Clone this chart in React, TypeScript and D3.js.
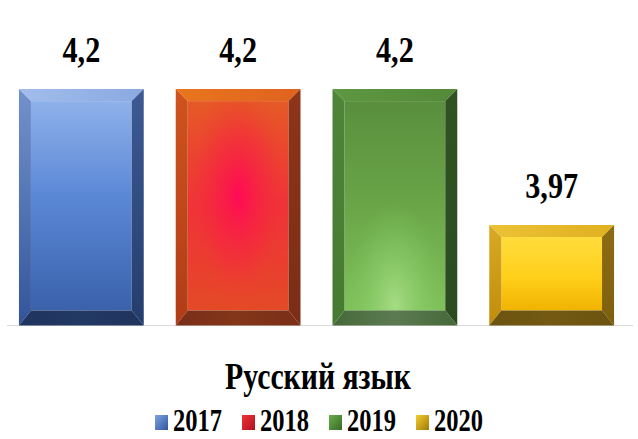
import React from "react";
import * as d3 from "d3";

const categories = ["2017", "2018", "2019", "2020"];
const values = [4.2, 4.2, 4.2, 3.97];
const labels = ["4,2", "4,2", "4,2", "3,97"];
const title = "Русский язык";

type Pal = {
  faceStops: [number, string][];
  radial?: { cx: number; cy: number; r: number; stops: [number, string, number][] };
  top: [string, string];
  left: [string, string];
  right: [string, string];
  bottom: [string, string];
  legend: [string, string];
};

const palettes: Pal[] = [
  {
    faceStops: [[0, "#8fb1ea"], [0.45, "#5b88d6"], [1, "#3a62ab"]],
    top: ["#a2bdec", "#8aa9e0"],
    left: ["#7392cb", "#34549a"],
    right: ["#3d5a94", "#243d6c"],
    bottom: ["#1f345f", "#223964"],
    legend: ["#7fa3e3", "#2f55a0"],
  },
  {
    faceStops: [[0, "#e65a26"], [0.5, "#f0303a"], [1, "#e44a26"]],
    radial: { cx: 0.5, cy: 0.45, r: 0.55, stops: [[0, "#ff0a55", 1], [0.6, "#f52a3c", 0.5], [1, "#e84a28", 0]] },
    top: ["#e8761e", "#e0621e"],
    left: ["#cf531d", "#b03c17"],
    right: ["#8e3419", "#7c2d16"],
    bottom: ["#7a2e17", "#833618"],
    legend: ["#f03535", "#b01020"],
  },
  {
    faceStops: [[0, "#598f3d"], [0.5, "#6aa548"], [1, "#7fc25a"]],
    radial: { cx: 0.5, cy: 0.98, r: 0.5, stops: [[0, "#a6dc85", 1], [0.6, "#8acb68", 0.5], [1, "#7fc25a", 0]] },
    top: ["#5e9741", "#548a39"],
    left: ["#4e8538", "#467a31"],
    right: ["#2f5323", "#2c4c20"],
    bottom: ["#45693a", "#5c7a52"],
    legend: ["#6aae4a", "#3a6a28"],
  },
  {
    faceStops: [[0, "#ffdc3c"], [0.55, "#ffcf1a"], [1, "#f0b300"]],
    top: ["#ecc235", "#e0b020"],
    left: ["#d9aa24", "#c08c0c"],
    right: ["#8c6c12", "#7e5f0e"],
    bottom: ["#6c5310", "#735911"],
    legend: ["#f5cc30", "#a07a08"],
  },
];

const W = 638;
const H = 439;
const baseY = 325.5;
const BEV = 12;
const BEVB = 15;
const FONT = "'Liberation Serif', 'Times New Roman', serif";

export default function App() {
  const x = d3
    .scaleBand<string>()
    .domain(categories)
    .range([5, 628])
    .paddingInner(0.204)
    .paddingOuter(0.089);
  const y = d3.scaleLinear().domain([3.8, 4.3]).range([baseY, 30]);

  const pts = (p: [number, number][]) => p.map((q) => q.join(",")).join(" ");

  // legend layout
  const sq = 13;
  const gap = 5;
  const tw = 49;
  const itemGap = 20;
  const itemW = sq + gap + tw + itemGap;
  const legendW = categories.length * itemW - itemGap;
  const legendX0 = 319 - legendW / 2;
  const legendBase = 431;

  return (
    <svg width={W} height={H} style={{ position: "absolute", left: 0, top: 0 }}>
      <defs>
        {palettes.map((p, i) => (
          <React.Fragment key={i}>
            <linearGradient id={`face${i}`} x1="0" y1="0" x2="0" y2="1">
              {p.faceStops.map(([o, c], k) => (
                <stop key={k} offset={o} stopColor={c} />
              ))}
            </linearGradient>
            {p.radial && (
              <radialGradient id={`rad${i}`} cx={p.radial.cx} cy={p.radial.cy} r={p.radial.r}>
                {p.radial.stops.map(([o, c, a], k) => (
                  <stop key={k} offset={o} stopColor={c} stopOpacity={a} />
                ))}
              </radialGradient>
            )}
            <linearGradient id={`top${i}`} x1="0" y1="0" x2="1" y2="0">
              <stop offset="0" stopColor={p.top[0]} />
              <stop offset="1" stopColor={p.top[1]} />
            </linearGradient>
            <linearGradient id={`left${i}`} x1="0" y1="0" x2="0" y2="1">
              <stop offset="0" stopColor={p.left[0]} />
              <stop offset="1" stopColor={p.left[1]} />
            </linearGradient>
            <linearGradient id={`right${i}`} x1="0" y1="0" x2="0" y2="1">
              <stop offset="0" stopColor={p.right[0]} />
              <stop offset="1" stopColor={p.right[1]} />
            </linearGradient>
            <linearGradient id={`bottom${i}`} x1="0" y1="0" x2="1" y2="0">
              <stop offset="0" stopColor={p.bottom[0]} />
              <stop offset="0.5" stopColor={p.bottom[1]} />
              <stop offset="1" stopColor={p.bottom[0]} />
            </linearGradient>
            <linearGradient id={`leg${i}`} x1="0" y1="0" x2="1" y2="1">
              <stop offset="0" stopColor={p.legend[0]} />
              <stop offset="1" stopColor={p.legend[1]} />
            </linearGradient>
          </React.Fragment>
        ))}
      </defs>

      <line x1={7} x2={633} y1={baseY} y2={baseY} stroke="#d9d9d9" strokeWidth={1.2} />

      {categories.map((c, i) => {
        const x0 = x(c)!;
        const x1 = x0 + x.bandwidth();
        const y0 = y(values[i]);
        const y1 = baseY;
        const p = palettes[i];
        return (
          <g key={c}>
            <rect x={x0 + BEV} y={y0 + BEV} width={x1 - x0 - 2 * BEV} height={y1 - y0 - BEV - BEVB} fill={`url(#face${i})`} />
            {p.radial && (
              <rect x={x0 + BEV} y={y0 + BEV} width={x1 - x0 - 2 * BEV} height={y1 - y0 - BEV - BEVB} fill={`url(#rad${i})`} />
            )}
            <polygon points={pts([[x0, y0], [x1, y0], [x1 - BEV, y0 + BEV], [x0 + BEV, y0 + BEV]])} fill={`url(#top${i})`} />
            <polygon points={pts([[x0, y0], [x0 + BEV, y0 + BEV], [x0 + BEV, y1 - BEVB], [x0, y1]])} fill={`url(#left${i})`} />
            <polygon points={pts([[x1, y0], [x1, y1], [x1 - BEV, y1 - BEVB], [x1 - BEV, y0 + BEV]])} fill={`url(#right${i})`} />
            <polygon points={pts([[x0, y1], [x0 + BEV, y1 - BEVB], [x1 - BEV, y1 - BEVB], [x1, y1]])} fill={`url(#bottom${i})`} />
            <text
              transform={`translate(${x0 + x.bandwidth() / 2},${y0 - 27}) scale(0.84,1)`}
              textAnchor="middle"
              fontFamily={FONT}
              fontWeight="bold"
              fontSize={36}
              fill="#000"
            >
              {labels[i]}
            </text>
          </g>
        );
      })}

      <text
        x={318}
        y={389}
        textAnchor="middle"
        fontFamily={FONT}
        fontWeight="bold"
        fontSize={37}
        textLength={186}
        lengthAdjust="spacingAndGlyphs"
        fill="#000"
      >
        {title}
      </text>

      {categories.map((c, i) => {
        const lx = legendX0 + i * itemW;
        return (
          <g key={`leg-${c}`}>
            <rect x={lx} y={legendBase - 16} width={sq} height={15} fill={`url(#leg${i})`} />
            <text
              x={lx + sq + gap}
              y={legendBase}
              fontFamily={FONT}
              fontWeight="bold"
              fontSize={32}
              textLength={tw}
              lengthAdjust="spacingAndGlyphs"
              fill="#000"
            >
              {c}
            </text>
          </g>
        );
      })}
    </svg>
  );
}
